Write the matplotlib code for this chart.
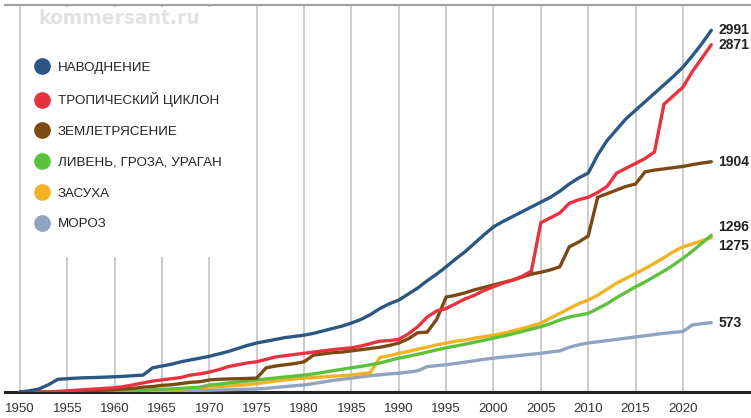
import matplotlib.pyplot as plt
import matplotlib
from matplotlib.lines import Line2D
from matplotlib.patches import Rectangle
import numpy as np

matplotlib.rcParams['font.family'] = ['Liberation Sans Narrow', 'Liberation Sans', 'DejaVu Sans']

# cumulative number of events (1950-2023)
years = np.arange(1950, 2024)

flood = [0, 10, 25, 60, 105, 110, 115, 118, 120, 123,
         126, 130, 135, 140, 200, 215, 230, 250, 265, 280,
         295, 315, 335, 360, 385, 405, 420, 435, 450, 460,
         470, 485, 505, 525, 545, 570, 600, 640, 690, 730,
         760, 810, 860, 920, 975, 1035, 1100, 1160, 1230, 1300,
         1365, 1410, 1450, 1490, 1530, 1570, 1610, 1660, 1720, 1770,
         1810, 1960, 2080, 2170, 2260, 2330, 2400, 2470, 2540, 2610,
         2686, 2780, 2880, 2991]

cyclone = [0, 0, 0, 0, 5, 10, 15, 20, 25, 30,
           35, 45, 60, 75, 90, 100, 110, 120, 140, 150,
           165, 185, 210, 225, 240, 250, 270, 290, 300, 310,
           320, 330, 340, 350, 358, 365, 380, 400, 420, 425,
           435, 480, 540, 620, 670, 690, 730, 770, 800, 840,
           870, 900, 925, 955, 1000, 1400, 1440, 1480, 1560, 1590,
           1610, 1650, 1700, 1810, 1850, 1890, 1930, 1985, 2380, 2450,
           2520, 2650, 2760, 2871]

quake = [0, 0, 0, 0, 0, 5, 5, 10, 10, 15,
         20, 25, 30, 40, 45, 55, 60, 70, 80, 85,
         100, 105, 108, 110, 112, 115, 200, 215, 225, 235,
         250, 305, 315, 325, 330, 340, 350, 360, 370, 385,
         405, 440, 490, 495, 600, 785, 800, 820, 845, 865,
         885, 905, 925, 950, 975, 990, 1010, 1035, 1200, 1240,
         1290, 1610, 1640, 1670, 1700, 1720, 1820, 1835, 1845, 1855,
         1865, 1880, 1893, 1904]

storm = [0, 0, 0, 0, 0, 0, 0, 0, 2, 4,
         6, 8, 10, 14, 18, 22, 26, 30, 35, 40,
         58, 65, 75, 82, 90, 100, 108, 116, 124, 132,
         140, 150, 162, 175, 188, 200, 212, 225, 240, 260,
         280, 295, 312, 330, 348, 365, 380, 395, 412, 428,
         445, 462, 480, 500, 520, 540, 565, 595, 620, 635,
         650, 690, 730, 780, 825, 870, 910, 955, 1000, 1050,
         1105, 1165, 1230, 1296]

drought = [0, 0, 0, 0, 0, 0, 0, 0, 0, 0,
           0, 2, 5, 8, 12, 15, 20, 25, 30, 35,
           40, 45, 50, 55, 60, 70, 80, 90, 100, 108,
           115, 120, 125, 130, 135, 140, 150, 160, 285, 300,
           320, 335, 355, 370, 390, 405, 420, 430, 445, 458,
           470, 485, 505, 525, 545, 570, 610, 650, 690, 730,
           760, 800, 850, 900, 940, 980, 1020, 1065, 1110, 1160,
           1200, 1225, 1250, 1275]

frost = [0, 0, 0, 0, 0, 0, 0, 0, 0, 0,
         0, 0, 0, 2, 4, 6, 8, 10, 12, 14,
         15, 17, 19, 21, 23, 25, 30, 38, 45, 52,
         58, 70, 82, 95, 105, 115, 125, 135, 142, 150,
         155, 165, 175, 210, 218, 225, 236, 247, 258, 270,
         280, 288, 296, 304, 312, 320, 330, 340, 370, 390,
         405, 415, 425, 435, 445, 455, 465, 475, 485, 493,
         500, 555, 565, 573]

labels = ['НАВОДНЕНИЕ', 'ТРОПИЧЕСКИЙ ЦИКЛОН', 'ЗЕМЛЕТРЯСЕНИЕ',
          'ЛИВЕНЬ, ГРОЗА, УРАГАН', 'ЗАСУХА', 'МОРОЗ']
series = [flood, cyclone, quake, storm, drought, frost]
colors = ['#2c5783', '#e8323f', '#7b4a14', '#5cc23c', '#f3b224', '#8ea4bf']
# vertical nudge of the end labels (points) so 1296/1275 don't collide
label_dy = [0, 0, 0, 6, -6, 0]

fig = plt.figure(figsize=(7.51, 4.18), dpi=100)
ax = fig.add_axes([5 / 751, 26 / 418, 746 / 751, 387 / 418])

# draw order: frost first, flood last
for i in [5, 4, 3, 2, 1, 0]:
    ax.plot(years, series[i], color=colors[i], linewidth=2.4,
            solid_capstyle='round', solid_joinstyle='miter', zorder=3)

for i, s in enumerate(series):
    ax.annotate(str(s[-1]), xy=(years[-1], s[-1]), xytext=(5, label_dy[i]),
                textcoords='offset points', fontsize=10, fontweight='bold',
                color='#222222', ha='left', va='center')

ax.set_xlim(1948.42, 2027.19)
ax.set_ylim(0, 3200)
ax.set_xticks(np.arange(1950, 2021, 5))
ax.set_yticks([])
ax.tick_params(axis='x', length=0, pad=8, labelsize=9.5, labelcolor='#333333')
ax.grid(axis='x', color='#c8c8c8', linewidth=1.3, zorder=0)
ax.set_axisbelow(True)

for side in ['left', 'right']:
    ax.spines[side].set_visible(False)
ax.spines['bottom'].set_color('#222222')
ax.spines['bottom'].set_linewidth(2.2)
ax.spines['top'].set_color('#a0a0a0')
ax.spines['top'].set_linewidth(1.6)

# white panel behind the legend hides the grid lines there
ax.add_patch(Rectangle((22 / 746, 1 - 252 / 387), 228 / 746, 250 / 387,
                       transform=ax.transAxes, facecolor='white',
                       edgecolor='none', zorder=1))

handles = [Line2D([], [], marker='o', linestyle='', markersize=11,
                  markerfacecolor=c, markeredgecolor=c) for c in colors]
leg = ax.legend(handles, labels, loc='upper left',
                bbox_to_anchor=(27 / 751, 1 - 55 / 418),
                bbox_transform=fig.transFigure, frameon=False,
                fontsize=9.6, labelspacing=1.38, handletextpad=0.6,
                handlelength=1.2, borderpad=0)
for t in leg.get_texts():
    t.set_color('#222222')

fig.text(38 / 751, 1 - 19 / 418, 'kommersant.ru', fontsize=13.5,
         fontweight='bold', color='#e2e2e2', va='center', ha='left',
         family='DejaVu Sans')

plt.savefig('out.png', dpi=100, facecolor='white')
